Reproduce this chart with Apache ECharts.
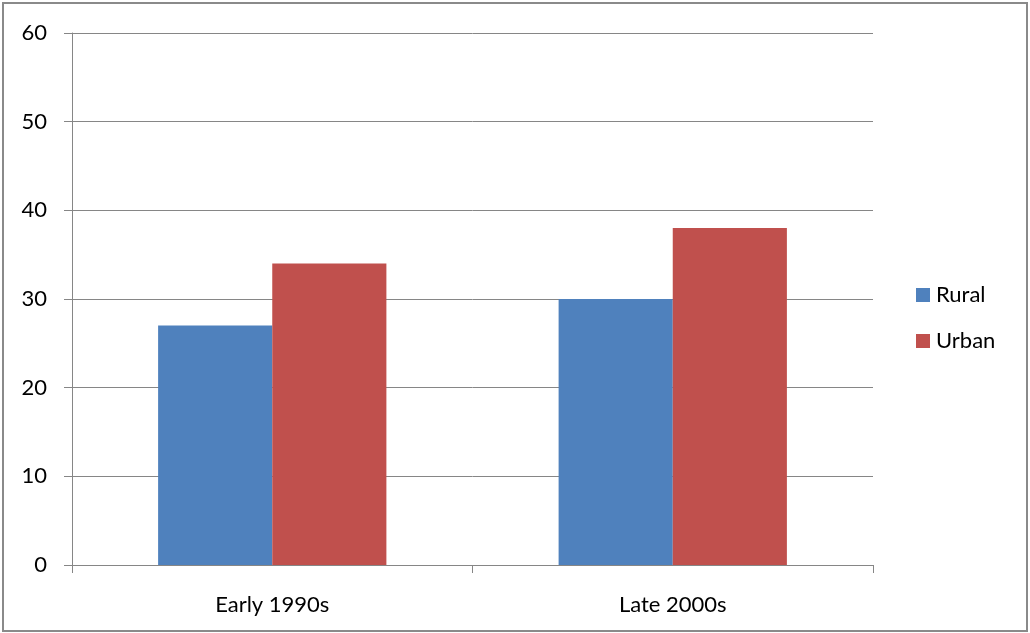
<!DOCTYPE html>
<html>
<head>
<meta charset="utf-8">
<script src="https://cdn.jsdelivr.net/npm/echarts@6/dist/echarts.min.js"></script>
<style>
  html, body { margin: 0; padding: 0; background: #fff; }
  #chart { width: 1030px; height: 633px; }
</style>
</head>
<body>
<div id="chart"></div>
<script>
// Categories and series values
const categories = ['Early 1990s', 'Late 2000s'];
const rural = [27, 30];
const urban = [34, 38];
const yTicks = [0, 10, 20, 30, 40, 50, 60];

const axisGray = '#868686';
const font = 'Lato, "Open Sans", sans-serif';
const fontSize = 22;

const chart = echarts.init(document.getElementById('chart'));
chart.setOption({
  animation: false,
  backgroundColor: '#fff',
  textStyle: { fontFamily: font },
  graphic: [{
    type: 'rect',
    shape: { x: 3, y: 3, width: 1024, height: 628 },
    style: { fill: 'none', stroke: '#8a8a8a', lineWidth: 2 },
    silent: true
  }],
  grid: { left: 72, right: 157, top: 33, bottom: 68, containLabel: false },
  legend: {
    orient: 'vertical',
    left: 911,
    top: 279,
    itemWidth: 14,
    itemHeight: 14,
    itemGap: 24,
    icon: 'rect',
    textStyle: { fontFamily: font, fontSize: fontSize, color: '#000', padding: [0, 0, 0, 1] },
    data: ['Rural', 'Urban']
  },
  xAxis: {
    type: 'category',
    data: categories,
    axisLine: { lineStyle: { color: axisGray, width: 1 } },
    axisTick: { show: true, length: 8, lineStyle: { color: axisGray } },
    axisLabel: { color: '#000', fontSize: fontSize, fontFamily: font, margin: 29 },
    splitLine: { show: false }
  },
  yAxis: {
    type: 'value',
    min: yTicks[0],
    max: yTicks[yTicks.length - 1],
    interval: 10,
    axisLine: { show: true, lineStyle: { color: axisGray, width: 1 } },
    axisTick: { show: true, length: 8, lineStyle: { color: axisGray } },
    axisLabel: { color: '#000', fontSize: fontSize, fontFamily: font, margin: 25 },
    splitLine: { show: true, lineStyle: { color: axisGray, width: 1 } }
  },
  series: [
    {
      name: 'Rural',
      type: 'bar',
      data: rural,
      barGap: '0%',
      barCategoryGap: '43%',
      itemStyle: { color: '#4F81BD' }
    },
    {
      name: 'Urban',
      type: 'bar',
      data: urban,
      itemStyle: { color: '#C0504D' }
    }
  ]
});
</script>
</body>
</html>
